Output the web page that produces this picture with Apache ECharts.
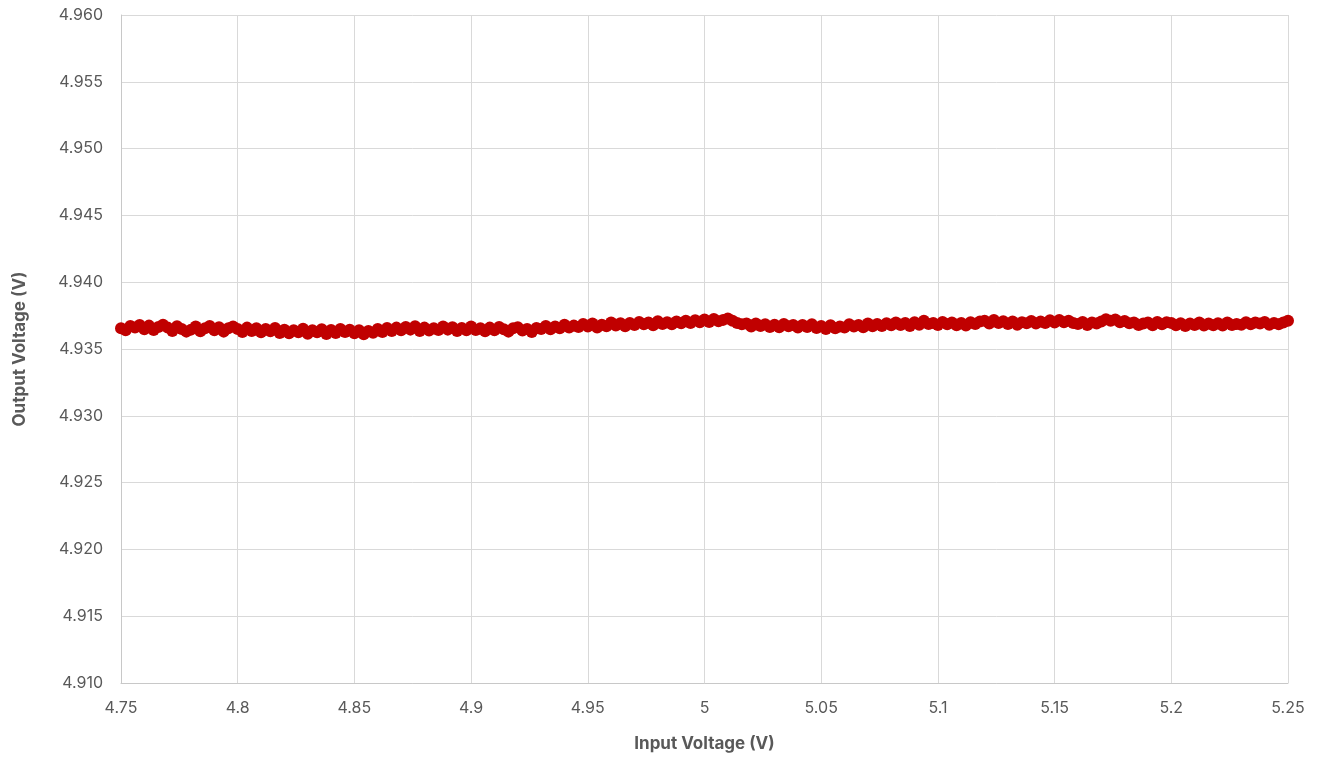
<!DOCTYPE html>
<html>
<head>
<meta charset="utf-8">
<script src="https://cdn.jsdelivr.net/npm/echarts@6/dist/echarts.min.js"></script>
<style>html,body{margin:0;padding:0;background:#fff}#c{width:1320px;height:758px}</style>
</head>
<body>
<div id="c"></div>
<script>
// Input voltage sweep: start and step (V)
const xStart = 4.75;
const xStep = 0.002;
// Output voltage readings (V), one per input step
const outputVoltage = [
4.93655,4.93640,4.93672,4.93660,4.93680,
4.93648,4.93675,4.93642,4.93665,4.93682,
4.93660,4.93635,4.93670,4.93650,4.93630,
4.93645,4.93668,4.93632,4.93655,4.93672,
4.93640,4.93662,4.93630,4.93655,4.93668,
4.93650,4.93628,4.93660,4.93635,4.93655,
4.93625,4.93650,4.93632,4.93658,4.93620,
4.93645,4.93618,4.93640,4.93625,4.93652,
4.93615,4.93640,4.93625,4.93648,4.93612,
4.93642,4.93620,4.93650,4.93628,4.93645,
4.93618,4.93640,4.93610,4.93635,4.93622,
4.93650,4.93628,4.93658,4.93635,4.93660,
4.93640,4.93665,4.93645,4.93670,4.93635,
4.93660,4.93638,4.93655,4.93642,4.93668,
4.93645,4.93662,4.93635,4.93658,4.93640,
4.93668,4.93642,4.93655,4.93632,4.93660,
4.93640,4.93665,4.93648,4.93630,4.93655,
4.93662,4.93638,4.93650,4.93628,4.93658,
4.93650,4.93672,4.93648,4.93668,4.93655,
4.93682,4.93660,4.93675,4.93665,4.93688,
4.93668,4.93690,4.93660,4.93682,4.93670,
4.93698,4.93675,4.93692,4.93670,4.93695,
4.93680,4.93702,4.93685,4.93698,4.93678,
4.93708,4.93688,4.93700,4.93685,4.93705,
4.93692,4.93712,4.93695,4.93715,4.93700,
4.93720,4.93702,4.93725,4.93708,4.93718,
4.93728,4.93712,4.93695,4.93685,4.93690,
4.93668,4.93690,4.93672,4.93685,4.93665,
4.93682,4.93662,4.93688,4.93670,4.93680,
4.93660,4.93680,4.93665,4.93685,4.93658,
4.93672,4.93650,4.93678,4.93655,4.93668,
4.93660,4.93685,4.93668,4.93680,4.93662,
4.93690,4.93670,4.93688,4.93672,4.93692,
4.93678,4.93698,4.93680,4.93695,4.93672,
4.93700,4.93682,4.93712,4.93688,4.93695,
4.93680,4.93702,4.93685,4.93698,4.93678,
4.93695,4.93675,4.93700,4.93688,4.93705,
4.93712,4.93690,4.93718,4.93695,4.93708,
4.93688,4.93705,4.93682,4.93700,4.93692,
4.93710,4.93690,4.93705,4.93695,4.93715,
4.93698,4.93718,4.93700,4.93712,4.93695,
4.93688,4.93702,4.93680,4.93698,4.93690,
4.93705,4.93722,4.93712,4.93720,4.93700,
4.93710,4.93692,4.93698,4.93680,4.93690,
4.93698,4.93678,4.93702,4.93685,4.93700,
4.93695,4.93678,4.93692,4.93672,4.93690,
4.93680,4.93698,4.93675,4.93690,4.93678,
4.93692,4.93675,4.93698,4.93680,4.93688,
4.93682,4.93700,4.93685,4.93698,4.93690,
4.93702,4.93682,4.93695,4.93685,4.93698,
4.93712
];
const xAxisTitle = 'Input Voltage (V)';
const yAxisTitle = 'Output Voltage (V)';

const points = outputVoltage.map((v, i) => [+(xStart + i * xStep).toFixed(3), v]);

const font = 'Inter, "Open Sans", sans-serif';
const chart = echarts.init(document.getElementById('c'), null, {renderer: 'canvas'});
chart.setOption({
  animation: false,
  backgroundColor: '#ffffff',
  grid: {left: 121, right: 32, top: 15, bottom: 75, containLabel: false, outerBoundsMode: 'none'},
  xAxis: {
    type: 'value', min: 4.75, max: 5.25, interval: 0.05,
    name: xAxisTitle, nameLocation: 'middle', nameGap: 52,
    nameTextStyle: {fontFamily: font, fontSize: 17, fontWeight: 'bold', color: '#595959'},
    axisLine: {show: true, lineStyle: {color: '#c8c8c8', width: 1}},
    axisTick: {show: false},
    axisLabel: {fontFamily: font, fontSize: 16, color: '#595959', margin: 17,
      formatter: v => String(+v.toFixed(2))},
    splitLine: {show: true, lineStyle: {color: '#d9d9d9', width: 1}}
  },
  yAxis: {
    type: 'value', min: 4.910, max: 4.960, interval: 0.005,
    name: yAxisTitle, nameLocation: 'middle', nameGap: 93, nameRotate: 90,
    nameTextStyle: {fontFamily: font, fontSize: 17, fontWeight: 'bold', color: '#595959'},
    axisLine: {show: true, lineStyle: {color: '#c8c8c8', width: 1}},
    axisTick: {show: false},
    axisLabel: {fontFamily: font, fontSize: 16, color: '#595959', margin: 18,
      formatter: v => v.toFixed(3)},
    splitLine: {show: true, lineStyle: {color: '#d9d9d9', width: 1}}
  },
  series: [{
    type: 'line',
    data: points,
    symbol: 'circle',
    symbolSize: 12,
    showAllSymbol: true,
    itemStyle: {color: '#c00000', borderWidth: 0},
    lineStyle: {color: '#c00000', width: 2}
  }]
});
</script>
</body>
</html>
